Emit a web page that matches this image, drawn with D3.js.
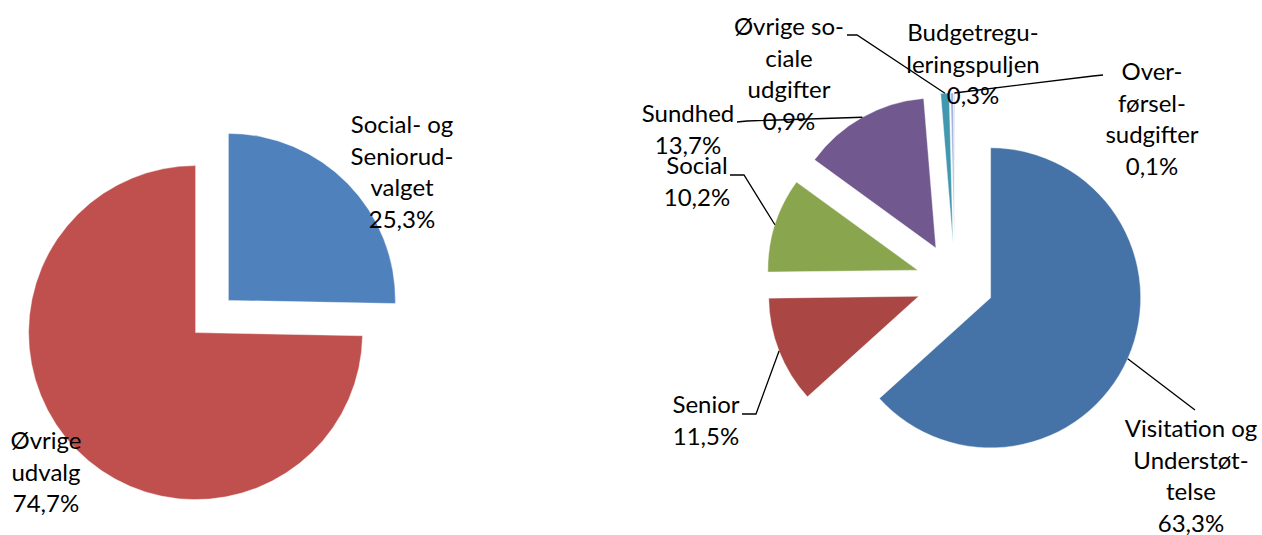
<!DOCTYPE html>
<html>
<head>
<meta charset="utf-8">
<script src="https://cdn.jsdelivr.net/npm/d3@7"></script>
<style>
    body { margin: 0; background: #fff; }
    text { font-family: Lato, "Open Sans", sans-serif; font-size: 24px; fill: #000; }
</style>
</head>
<body>
<div id="graph"></div>
<script>
// left pie: committees
let leftNames = ["Social- og Seniorudvalget", "Øvrige udvalg"];
let leftValues = [25.3, 74.7];
let leftLines = [["Social- og", "Seniorud-", "valget"], ["Øvrige", "udvalg"]];
let leftColors = ["#4F81BD", "#C0504D"];

// right pie: areas inside the committee
let rightNames = ["Visitation og Understøttelse", "Senior", "Social", "Sundhed",
    "Øvrige sociale udgifter", "Budgetreguleringspuljen", "Overførselsudgifter"];
let rightValues = [63.3, 11.5, 10.2, 13.7, 0.9, 0.3, 0.1];
let rightLines = [["Visitation og", "Understøt-", "telse"], ["Senior"], ["Social"], ["Sundhed"],
    ["Øvrige so-", "ciale", "udgifter"], ["Budgetregu-", "leringspuljen"], ["Over-", "førsel-", "sudgifter"]];
let rightColors = ["#4572A7", "#AA4643", "#89A54E", "#71588F", "#4198AF", "#A4B4DA", "#C6CFE8"];

const width = 1262, height = 535;
const lineH = 31.5;

// label layout: centre x, first baseline, leader start (null = no leader)
let leftLayout = [
    { x: 402, y: 133, lead: null },
    { x: 46, y: 449, lead: null }
];
let rightLayout = [
    { x: 1191, y: 437, lead: [[1195, 410]] },
    { x: 706, y: 413, lead: [[742, 414], [756, 414]] },
    { x: 697, y: 174, lead: [[730, 175], [744, 175]] },
    { x: 688, y: 122, lead: [[737, 122], [747, 121]] },
    { x: 789, y: 35, lead: [[847, 35], [857, 35]] },
    { x: 973, y: 41, lead: null },
    { x: 1152, y: 80, lead: [[1103, 75], [1093, 76]] }
];

let svg = d3.select("#graph")
    .append("svg")
    .attr("width", width)
    .attr("height", height);

function drawPie(cx, cy, radius, explode, names, values, lines, colors, layout) {
    let pie = d3.pie().sort(null).value(d => d)(values);
    let arc = d3.arc().innerRadius(0).outerRadius(radius);

    let g = svg.append("g")
        .attr("transform", `translate(${cx}, ${cy})`);

    // offset each slice along its mid angle
    const shift = function(d, r) {
        let a = (d.startAngle + d.endAngle) / 2;
        return [Math.sin(a) * r, -Math.cos(a) * r];
    };

    g.selectAll("path")
        .data(pie)
        .enter()
        .append("path")
        .attr("d", arc)
        .attr("transform", function(d) {
            let s = shift(d, explode);
            return `translate(${s[0]}, ${s[1]})`;
        })
        .attr("fill", (d, i) => colors[i])
        .attr("stroke", "#fff")
        .attr("stroke-width", 0.4);

    pie.forEach(function(d, i) {
        let lay = layout[i];
        if (lay.lead) {
            let end = shift(d, explode + radius);
            let pts = lay.lead.concat([[cx + end[0], cy + end[1]]]);
            svg.append("path")
                .attr("d", d3.line()(pts))
                .attr("fill", "none")
                .attr("stroke", "#000")
                .attr("stroke-width", 1.3);
        }
        let t = svg.append("text")
            .attr("text-anchor", "middle");
        let rows = lines[i].concat([d3.format(".1f")(values[i]).replace(".", ",") + "%"]);
        rows.forEach(function(r, k) {
            t.append("tspan")
                .attr("x", lay.x)
                .attr("y", lay.y + k * lineH)
                .text(r);
        });
    });
}

drawPie(212, 316.5, 167, 23, leftNames, leftValues, leftLines, leftColors, leftLayout);
drawPie(955, 282, 150, 39, rightNames, rightValues, rightLines, rightColors, rightLayout);
</script>
</body>
</html>
